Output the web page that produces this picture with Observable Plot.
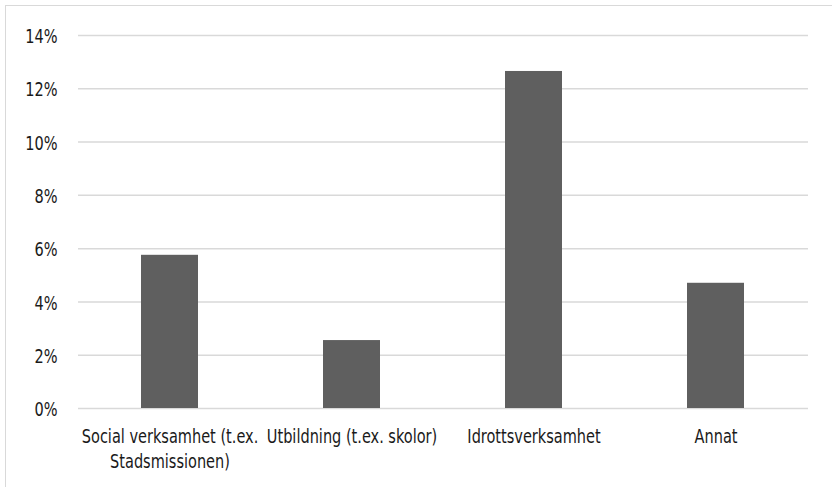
<!DOCTYPE html>
<html>
<head>
<meta charset="utf-8">
<script src="https://cdn.jsdelivr.net/npm/d3@7"></script>
<script src="https://cdn.jsdelivr.net/npm/@observablehq/plot@0.6"></script>
<style>
  html, body { margin: 0; padding: 0; background: #fff; }
  #wrap { position: relative; width: 832px; height: 487px; overflow: hidden; }
  #frame { position: absolute; left: 5px; top: 5px; width: 900px; height: 600px;
           border-top: 1.5px solid #d9d9d9; border-left: 1.5px solid #d9d9d9; box-sizing: border-box; }
  #chart { position: absolute; left: 0; top: 0; }
</style>
</head>
<body>
<div id="wrap"><div id="frame"></div><div id="chart"></div></div>
<script>
// Share of respondents per type of organisation
const categories = [
  "Social verksamhet (t.ex. Stadsmissionen)",
  "Utbildning (t.ex. skolor)",
  "Idrottsverksamhet",
  "Annat"
];
const shares = [0.0575, 0.0255, 0.1265, 0.047];
const tickLabels = [
  "Social verksamhet (t.ex.\nStadsmissionen)",
  "Utbildning (t.ex. skolor)",
  "Idrottsverksamhet",
  "Annat"
];
const yTicks = [0, 0.02, 0.04, 0.06, 0.08, 0.10, 0.12, 0.14];

const data = categories.map((c, i) => ({category: c, share: shares[i]}));
const labelOf = new Map(categories.map((c, i) => [c, tickLabels[i]]));

const chart = Plot.plot({
  width: 832,
  height: 487,
  marginTop: 35,
  marginBottom: 79,
  marginLeft: 78,
  marginRight: 24,
  style: {
    fontFamily: "'DejaVu Sans Condensed', 'DejaVu Sans', sans-serif",
    fontSize: "19px",
    color: "#1a1a1a",
    background: "transparent"
  },
  x: {domain: categories, paddingInner: 0.685, paddingOuter: 0.3425, label: null},
  y: {domain: [0, 0.14], label: null},
  marks: [
    Plot.ruleY(yTicks, {stroke: "#d9d9d9", strokeWidth: 1.5}),
    Plot.barY(data, {x: "category", y: "share", fill: "#5f5f5f"}),
    Plot.axisY(yTicks, {
      tickSize: 0, tickPadding: 21, tickFormat: d3.format(".0%"),
      fontSize: 19, dy: 1.5, fill: "#1a1a1a", label: null
    }),
    Plot.axisX({
      tickSize: 0, tickPadding: 17, tickFormat: d => labelOf.get(d),
      fontSize: 19, lineHeight: 1.3, fill: "#1a1a1a", label: null
    })
  ]
});

// Narrow the tick labels horizontally for a tall, condensed typeface look
chart.querySelectorAll("g[aria-label$='tick label'] text").forEach(t => {
  const tr = t.getAttribute("transform") || "";
  t.setAttribute("transform", tr + " scale(0.85,1)");
});

document.getElementById("chart").appendChild(chart);
</script>
</body>
</html>
